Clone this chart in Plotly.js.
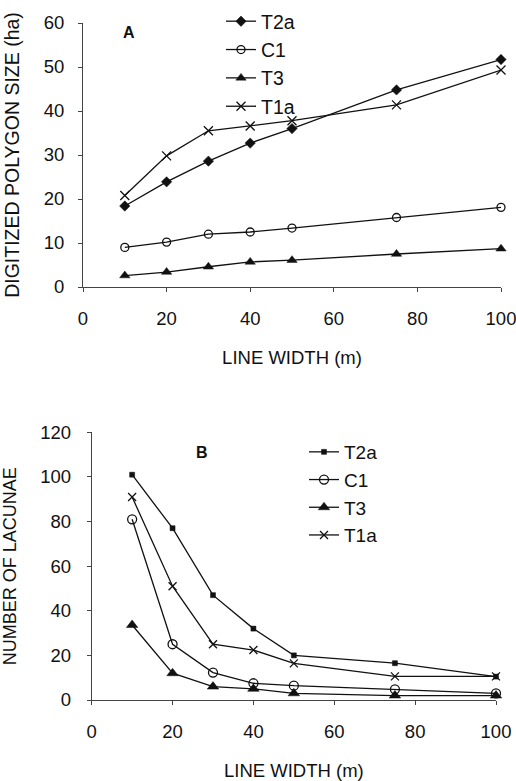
<!DOCTYPE html>
<html>
<head>
<meta charset="utf-8">
<script src="https://cdn.plot.ly/plotly-3.0.1.min.js"></script>
<style>html,body{margin:0;padding:0;background:#fff;}#chart{width:516px;height:781px;}</style>
</head>
<body>
<div id="chart"></div>
<script>
// Shared x values: line width (m)
const lineWidth = [10, 20, 30, 40, 50, 75, 100];
const seriesNames = ["T2a", "C1", "T3", "T1a"];

// Panel A: digitized polygon size (ha)
const polyT2a = [18.4, 23.9, 28.6, 32.7, 36.0, 44.8, 51.7];
const polyC1  = [9.0, 10.2, 12.0, 12.5, 13.4, 15.8, 18.1];
const polyT3  = [2.6, 3.4, 4.6, 5.7, 6.1, 7.5, 8.7];
const polyT1a = [20.8, 29.8, 35.5, 36.6, 37.8, 41.4, 49.3];

// Panel B: number of lacunae
const lacT2a = [101, 77, 47, 32, 20, 16.5, 10.5];
const lacC1  = [81, 25, 12.3, 7.5, 6.4, 4.8, 3];
const lacT3  = [33.6, 12, 6, 5, 3, 2, 2];
const lacT1a = [91, 51, 25, 22.4, 16.4, 10.6, 10.6];

const W = 516, H = 781;
const FONT = "Liberation Sans, Arial, sans-serif";
const lineStyle = {color: "#111", width: 1.3};

function tr(name, y, sym, size, xa, ya, leg, openMarker) {
  return {
    x: lineWidth, y: y, name: name, type: "scatter", mode: "lines+markers",
    xaxis: xa, yaxis: ya, legend: leg,
    line: lineStyle,
    marker: {symbol: sym, size: size, color: "#111",
             line: {color: "#111", width: openMarker ? 1.3 : 0.5}},
    cliponaxis: false
  };
}

const data = [
  tr(seriesNames[0], polyT2a, "diamond", 8, "x", "y", "legend", false),
  tr(seriesNames[1], polyC1, "circle-open", 8, "x", "y", "legend", true),
  tr(seriesNames[2], polyT3, "triangle-up", 9, "x", "y", "legend", false),
  tr(seriesNames[3], polyT1a, "x-thin-open", 9, "x", "y", "legend", true),
  tr(seriesNames[0], lacT2a, "square", 5, "x2", "y2", "legend2", false),
  tr(seriesNames[1], lacC1, "circle-open", 9, "x2", "y2", "legend2", true),
  tr(seriesNames[2], lacT3, "triangle-up", 10, "x2", "y2", "legend2", false),
  tr(seriesNames[3], lacT1a, "x-thin-open", 8, "x2", "y2", "legend2", true)
];

const axisCommon = {
  showgrid: false, zeroline: false, showline: true, linecolor: "#444", linewidth: 1,
  ticks: "outside", ticklen: 4, tickcolor: "#444", tickwidth: 1,
  tickfont: {family: FONT, size: 18.5, color: "#111"},
  ticklabeloverflow: "allow",
  automargin: false
};

function px2x(p) { return p / W; }
function px2y(p) { return 1 - p / H; }

const layout = {
  width: W, height: H,
  margin: {l: 0, r: 0, t: 0, b: 0},
  paper_bgcolor: "#fff", plot_bgcolor: "#fff",
  font: {family: FONT, color: "#111"},
  showlegend: true,
  xaxis: Object.assign({}, axisCommon, {
    domain: [px2x(83), px2x(501)], range: [0, 100], tickvals: [0, 20, 40, 60, 80, 100],
    anchor: "y", ticklabelstandoff: 11,
    title: {text: "LINE WIDTH (m)", font: {family: FONT, size: 18.5, color: "#111"}, standoff: 22}
  }),
  yaxis: Object.assign({}, axisCommon, {
    domain: [px2y(287), px2y(23)], range: [0, 60], tickvals: [0, 10, 20, 30, 40, 50, 60],
    anchor: "x", ticklabelstandoff: 10,
    title: {text: "DIGITIZED POLYGON SIZE (ha)", font: {family: FONT, size: 19.5, color: "#111"}, standoff: 18}
  }),
  xaxis2: Object.assign({}, axisCommon, {
    domain: [px2x(91.7), px2x(496)], range: [0, 100], tickvals: [0, 20, 40, 60, 80, 100],
    anchor: "y2", ticklabelstandoff: 11,
    title: {text: "LINE WIDTH (m)", font: {family: FONT, size: 18.5, color: "#111"}, standoff: 22}
  }),
  yaxis2: Object.assign({}, axisCommon, {
    domain: [px2y(700), px2y(432.3)], range: [0, 120], tickvals: [0, 20, 40, 60, 80, 100, 120],
    anchor: "x2", ticklabelstandoff: 12,
    title: {text: "NUMBER OF LACUNAE", font: {family: FONT, size: 18, color: "#111"}, standoff: 18}
  }),
  legend: {
    x: px2x(221), xanchor: "left", y: px2y(2), yanchor: "top",
    bgcolor: "rgba(0,0,0,0)", borderwidth: 0,
    font: {family: FONT, size: 19.5, color: "#111"}
  },
  legend2: {
    x: px2x(304), xanchor: "left", y: px2y(433), yanchor: "top",
    bgcolor: "rgba(0,0,0,0)", borderwidth: 0,
    font: {family: FONT, size: 19, color: "#111"}
  },
  annotations: [
    {text: "<b>A</b>", x: px2x(128.5), y: px2y(32), xref: "paper", yref: "paper",
     xanchor: "center", yanchor: "middle",
     showarrow: false, font: {family: FONT, size: 16, color: "#111"}},
    {text: "<b>B</b>", x: px2x(201.7), y: px2y(452.5), xref: "paper", yref: "paper",
     xanchor: "center", yanchor: "middle",
     showarrow: false, font: {family: FONT, size: 16, color: "#111"}}
  ]
};

Plotly.newPlot("chart", data, layout, {staticPlot: true, displayModeBar: false});
</script>
</body>
</html>
